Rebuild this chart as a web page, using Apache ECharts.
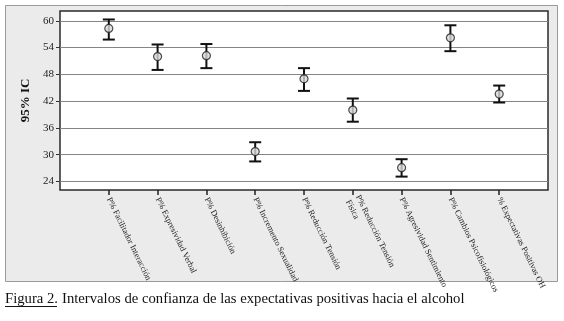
<!DOCTYPE html>
<html><head><meta charset="utf-8">
<script src="https://cdn.jsdelivr.net/npm/echarts@6/dist/echarts.min.js"></script>
<style>html,body{margin:0;padding:0;background:#fff;}#c{width:564px;height:321px;}</style>
</head><body><div id="c"></div>
<script>
const categories = [
  "P% Facilitador Interacción",
  "P% Expresividad Verbal",
  "P% Desinhibición",
  "P% Incremento Sexualidad",
  "P% Reducción Tensión",
  "P% Reducción Tensión\nFísica",
  "P% Agresividad Sentimiento",
  "P% Cambios Psicofisiológicos",
  "% Expectativas Positivas OH"
];
const means = [58.3, 52.0, 52.2, 30.7, 47.0, 40.0, 27.1, 56.2, 43.6];
const lower = [55.8, 49.0, 49.4, 28.5, 44.3, 37.4, 25.1, 53.2, 41.7];
const upper = [60.3, 54.7, 54.8, 32.8, 49.4, 42.6, 29.0, 59.0, 45.5];
const yTicks = [24, 30, 36, 42, 48, 54, 60];
const captionLead = "Figura 2.";
const captionText = "Intervalos de confianza de las expectativas positivas hacia el alcohol";

const positions = categories.map((_, i) => i + 1);
const serif = "'Liberation Serif', 'DejaVu Serif', serif";
const capFont = "14.7px " + serif;

const chart = echarts.init(document.getElementById('c'), null, {renderer: 'canvas'});
chart.setOption({
  animation: false,
  backgroundColor: '#ffffff',
  graphic: [
    {type: 'rect', z: -10, shape: {x: 5.5, y: 5.5, width: 552, height: 276},
     style: {fill: '#ebebeb', stroke: '#9a9a9a', lineWidth: 1}},
    {type: 'text', left: 5, top: 292, z: 10,
     style: {text: captionLead, font: capFont, fill: '#111'}},
    {type: 'line', z: 10, shape: {x1: 5, y1: 306.5, x2: 57, y2: 306.5}, style: {stroke: '#111', lineWidth: 1}},
    {type: 'text', left: 62, top: 292, z: 10,
     style: {text: captionText, font: capFont, fill: '#111'}}
  ],
  grid: {left: 60, top: 11, right: 16, bottom: 131, show: true,
         backgroundColor: '#ffffff', borderColor: '#2a2a2a', borderWidth: 1.5},
  xAxis: {
    type: 'value', min: 0, max: 10,
    axisLine: {show: false},
    splitLine: {show: false},
    axisTick: {show: true, customValues: positions, length: 5, inside: false,
               lineStyle: {color: '#222', width: 1.5}},
    axisLabel: {customValues: positions, rotate: -64, margin: 8,
                fontFamily: serif, fontSize: 8.5, color: '#222', lineHeight: 11,
                formatter: v => categories[Math.round(v) - 1] || ''}
  },
  yAxis: {
    type: 'value', min: 22.1, max: 62.2,
    name: '95% IC', nameLocation: 'middle', nameGap: 27,
    nameTextStyle: {fontFamily: serif, fontSize: 13, fontWeight: 'bold', color: '#111'},
    axisLine: {show: false},
    axisTick: {show: true, customValues: yTicks, length: 4, lineStyle: {color: '#333'}},
    axisLabel: {customValues: yTicks, fontFamily: serif, fontSize: 11, color: '#222', margin: 6},
    splitLine: {show: true, lineStyle: {color: '#858585', width: 1.2}}
  },
  series: [
    {
      type: 'custom',
      data: positions.map((p, i) => [p, lower[i], upper[i]]),
      renderItem: function (params, api) {
        const x = api.value(0);
        const lo = api.coord([x, api.value(1)]);
        const hi = api.coord([x, api.value(2)]);
        const hw = 6;
        const st = {stroke: '#111', lineWidth: 2};
        return {type: 'group', children: [
          {type: 'line', shape: {x1: lo[0], y1: lo[1], x2: hi[0], y2: hi[1]}, style: st},
          {type: 'line', shape: {x1: lo[0] - hw, y1: lo[1], x2: lo[0] + hw, y2: lo[1]}, style: st},
          {type: 'line', shape: {x1: hi[0] - hw, y1: hi[1], x2: hi[0] + hw, y2: hi[1]}, style: st}
        ]};
      },
      z: 3
    },
    {
      type: 'scatter',
      data: positions.map((p, i) => [p, means[i]]),
      symbol: 'circle', symbolSize: 8,
      itemStyle: {color: '#d8d8d8', borderColor: '#222', borderWidth: 1.2},
      z: 4
    }
  ]
});
</script></body></html>
